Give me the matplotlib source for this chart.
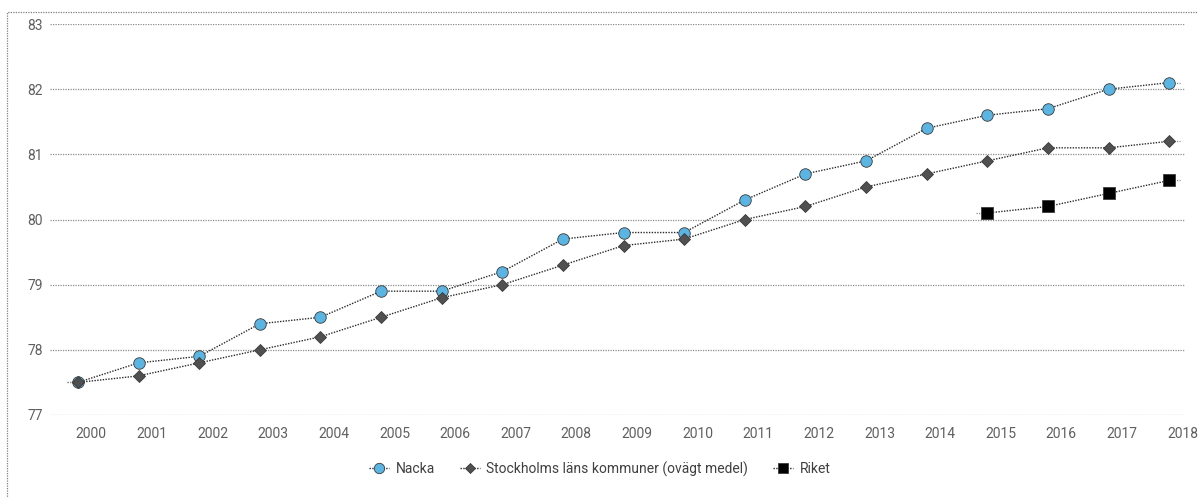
import matplotlib
matplotlib.use("Agg")
import matplotlib.pyplot as plt
from matplotlib.patches import Rectangle
from matplotlib.lines import Line2D

years = list(range(2000, 2019))
nacka = [77.5, 77.8, 77.9, 78.4, 78.5, 78.9, 78.9, 79.2, 79.7, 79.8, 79.8,
         80.3, 80.7, 80.9, 81.4, 81.6, 81.7, 82.0, 82.1]
stockholm = [77.5, 77.6, 77.8, 78.0, 78.2, 78.5, 78.8, 79.0, 79.3, 79.6, 79.7,
             80.0, 80.2, 80.5, 80.7, 80.9, 81.1, 81.1, 81.2]
riket_years = [2015, 2016, 2017, 2018]
riket = [80.1, 80.2, 80.4, 80.6]
yticks = [77, 78, 79, 80, 81, 82, 83]
labels = ["Nacka", "Stockholms läns kommuner (ovägt medel)", "Riket"]

plt.rcParams['font.family'] = ['Roboto', 'DejaVu Sans']

W, H = 1198, 497
fig = plt.figure(figsize=(W / 100, H / 100), dpi=100)
ax = fig.add_axes([50 / W, 1 - 415 / H, (1185 - 50) / W, (415 - 24) / H])

text_col = '#5f5f5f'
line_col = '#2a2a2a'
dot = (0, (1, 1))

# outer dotted frame (top & left visible)
fig.patches.append(Rectangle((7 / W, -0.05), 1.2, 1 - 12 / H + 0.05, transform=fig.transFigure,
                             fill=False, edgecolor='#7f7f7f', linewidth=0.9, linestyle=dot))

ax.set_xlim(1999.54, 2018.26)
ax.set_ylim(77, 83)
for s in ax.spines.values():
    s.set_visible(False)
ax.set_yticks(yticks)
ax.yaxis.grid(True, color='#8c8c8c', linestyle=dot, linewidth=0.9)
ax.set_axisbelow(True)
ax.tick_params(axis='y', length=0, pad=5, labelsize=10, labelcolor=text_col)
ax.set_xticks([y + 0.22 for y in years])
ax.set_xticklabels([str(y) for y in years])
ax.tick_params(axis='x', length=0, pad=9, labelsize=10, labelcolor=text_col)
for t in ax.get_xticklabels():
    t.set_clip_on(False)

ext = 0.18
series = [
    (years, nacka, 'o', '#5bb5e3', 8.3),
    (years, stockholm, 'D', '#505050', 6.2),
    (riket_years, riket, 's', '#000000', 8.3),
]
for xs, ys, m, c, ms in series:
    ax.plot([xs[0] - ext, xs[0]], [ys[0], ys[0]], color='#8c8c8c', linewidth=0.9,
            linestyle=dot, clip_on=False, zorder=2)
    ax.plot([xs[-1], xs[-1] + ext], [ys[-1], ys[-1]], color='#8c8c8c', linewidth=0.9,
            linestyle=dot, clip_on=False, zorder=2)
    ax.plot(xs, ys, color=line_col, linewidth=1.0, linestyle=dot, marker=m,
            markersize=ms, markerfacecolor=c, markeredgecolor='#3a3a3a',
            markeredgewidth=0.6, clip_on=False, zorder=3)

handles = []
for (xs, ys, m, c, ms), lab in zip(series, labels):
    handles.append(Line2D([], [], color=line_col, linewidth=1.0, linestyle=dot, marker=m,
                          markersize=ms * 0.9, markerfacecolor=c, markeredgecolor='#3a3a3a',
                          markeredgewidth=0.6, label=lab))
fig.legend(handles=handles, loc='center', bbox_to_anchor=(600 / W, 1 - 469 / H), ncol=3,
           frameon=False, fontsize=10, labelcolor='#404040', handlelength=1.4,
           handletextpad=0.5, columnspacing=1.8)

fig.savefig('out.png', dpi=100)
